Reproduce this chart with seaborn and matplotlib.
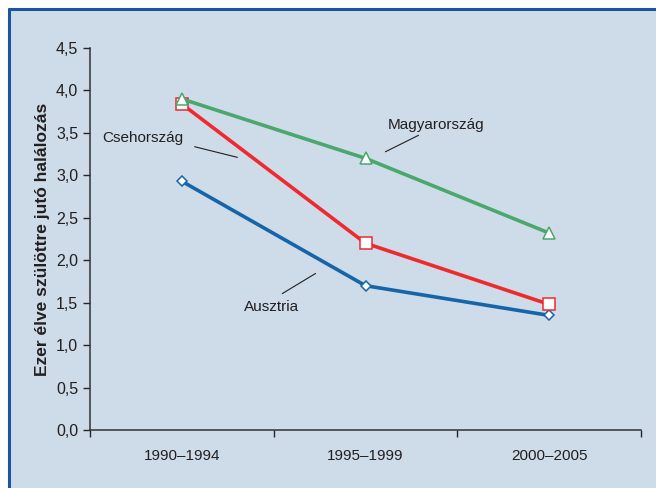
import pandas as pd
import numpy as np
import matplotlib.pyplot as plt
import seaborn as sns
from matplotlib.lines import Line2D
from matplotlib.patches import Rectangle

# Data
periods = ['1990–1994', '1995–1999', '2000–2005']
magyar = [3.90, 3.20, 2.32]
cseh = [3.84, 2.20, 1.48]
ausztria = [2.93, 1.70, 1.35]

bg = '#cedbe8'
txt = '#231f20'

sns.set_style('ticks', {'axes.facecolor': bg, 'axes.edgecolor': '#333333'})
plt.rcParams['font.family'] = ['Liberation Sans', 'DejaVu Sans']
plt.rcParams['font.size'] = 11

fig = plt.figure(figsize=(6.56, 4.88), dpi=100)
fig.patch.set_facecolor('white')

# framed panel background with blue border on left and top
W, H = 656, 488
fig.add_artist(Rectangle((9 / W, 0), 1 - 9 / W, (H - 9) / H, transform=fig.transFigure,
                         facecolor=bg, edgecolor='none', zorder=-10))
fig.add_artist(Line2D([9 / W, 9 / W], [0, (H - 9) / H], transform=fig.transFigure,
                      color='#1a56a0', lw=2.2))
fig.add_artist(Line2D([9 / W, 1], [(H - 9) / H, (H - 9) / H], transform=fig.transFigure,
                      color='#1a56a0', lw=2.2))

ax = fig.add_axes([90 / W, (H - 430) / H, (641 - 90) / W, (430 - 48) / H])

x = np.arange(len(periods))
series = [
    ('Ausztria', ausztria, '#1565a8', 'D', 5.5),
    ('Csehország', cseh, '#ee2a2e', 's', 8.5),
    ('Magyarország', magyar, '#4aa86c', '^', 9),
]
for name, vals, col, mk, ms in series:
    df = pd.DataFrame({'x': x, 'y': vals})
    sns.lineplot(data=df, x='x', y='y', ax=ax, color=col, lw=2.6, marker=mk,
                 markersize=ms, markerfacecolor='white', markeredgecolor=col,
                 markeredgewidth=1.1)

ax.set_xlim(-0.5, 2.5)
ax.set_ylim(0, 4.5)
ax.set_yticks(np.arange(0, 4.51, 0.5))
ax.set_yticklabels([f'{v:.1f}'.replace('.', ',') for v in np.arange(0, 4.51, 0.5)],
                   color=txt, fontsize=11.5)
ax.set_xticks(x)
ax.set_xticklabels(periods, color=txt)
ax.set_xticks([-0.5, 0.5, 1.5, 2.5], minor=True)
ax.tick_params(axis='x', which='major', length=0, pad=14)
ax.tick_params(axis='x', which='minor', length=5, width=1, direction='out')
ax.tick_params(axis='y', length=5, width=1, direction='out')
ax.set_xlabel('')
ax.set_ylabel('Ezer élve szülöttre jutó halálozás', fontweight='bold',
              color=txt, fontsize=12.5, labelpad=4)
sns.despine(ax=ax)
for s in ['left', 'bottom']:
    ax.spines[s].set_linewidth(1.1)

# series labels with leader lines
ax.text(-0.21, 3.44, 'Csehország', ha='center', va='center', color=txt)
ax.annotate('', xy=(0.317, 3.204), xytext=(0.055, 3.345),
            arrowprops=dict(arrowstyle='-', color=txt, lw=0.8))
ax.text(1.384, 3.59, 'Magyarország', ha='center', va='center', color=txt)
ax.annotate('', xy=(1.302, 3.486), xytext=(1.095, 3.263),
            arrowprops=dict(arrowstyle='-', color=txt, lw=0.8))
ax.text(0.491, 1.449, 'Ausztria', ha='center', va='center', color=txt)
ax.annotate('', xy=(0.741, 1.861), xytext=(0.534, 1.59),
            arrowprops=dict(arrowstyle='-', color=txt, lw=0.8))

fig.savefig('out.png', dpi=100, facecolor=fig.get_facecolor())
